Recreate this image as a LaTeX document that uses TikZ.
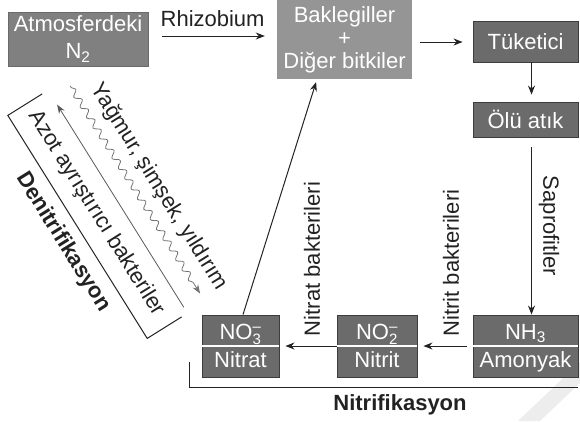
\documentclass[tikz,border=0pt]{standalone}
\usepackage{fontspec}
\setmainfont{Liberation Sans}
\usetikzlibrary{arrows.meta,decorations.pathmorphing}
\definecolor{boxA}{HTML}{808080}
\definecolor{boxAline}{HTML}{6A6A6A}
\definecolor{boxB}{HTML}{959595}
\definecolor{boxC}{HTML}{6B6B6B}
\definecolor{boxCline}{HTML}{3C3C3C}
\definecolor{ink}{HTML}{222222}
\definecolor{wmark}{HTML}{EDEDED}
\newcommand\ionsym[2]{\ensuremath{^{\mbox{\fontsize{15}{15}\selectfont #2}}_{\mbox{\fontsize{15}{15}\selectfont #1}}}}
\begin{document}
\begin{tikzpicture}[x=1pt,y=-1pt,
  font=\fontsize{22}{24}\selectfont,
  boxa/.style={draw=boxAline, fill=boxA, text=white, inner sep=0pt, line width=0.8pt, align=center},
  boxb/.style={fill=boxB, text=white, inner sep=0pt, align=center},
  boxc/.style={draw=boxCline, fill=boxC, text=white, inner sep=0pt, line width=0.9pt, align=center},
  wtxt/.style={text=white, inner sep=0pt, anchor=base},
  lbl/.style={text=ink, inner sep=0pt},
  arr/.style={draw=ink, line width=1pt, -{Stealth[length=9pt,width=7pt]}},
  brk/.style={draw=ink, line width=1pt}]
\useasboundingbox (0,0) rectangle (580,421);
% watermark stripe
\fill[wmark] (518,421) -- (540,421) -- (580,383) -- (580,362) -- cycle;

% top row
\node[boxa, minimum width=140pt, minimum height=54pt, font=\fontsize{22}{27}\selectfont] (atm) at (78,39) {Atmosferdeki\\N\textsubscript{2}};
\node[boxb, minimum width=135pt, minimum height=79pt, font=\fontsize{22}{23}\selectfont] (bak) at (344.5,39.5) {Baklegiller\\+\\Diğer bitkiler};
\node[boxc, minimum width=105pt, minimum height=41pt] (tuk) at (525.5,41.5) {Tüketici};
\node[boxc, minimum width=105pt, minimum height=35pt] (olu) at (525.5,119.5) {Ölü atık};

% bottom row (split boxes)
\node[boxc, minimum width=105pt, minimum height=62pt] (nh3) at (525.5,346) {};
\node[boxc, minimum width=80pt, minimum height=62pt] (no2) at (377,346) {};
\node[boxc, minimum width=77pt, minimum height=62pt] (no3) at (240.5,346) {};
\foreach \b in {nh3,no2,no3}{
  \draw[white, line width=1.3pt] ([xshift=0.5pt]\b.west) -- ([xshift=-0.5pt]\b.east);
}
\node[wtxt] (nh3a) at (525.5,339) {NH\textsubscript{3}};
\node[wtxt] (nh3b) at (525.5,367) {Amonyak};
\node[wtxt] (no2a) at (377,339) {NO\ionsym{2}{–}};
\node[wtxt] (no2b) at (377,367) {Nitrit};
\node[wtxt] (no3a) at (240.5,339) {NO\ionsym{3}{–}};
\node[wtxt] (no3b) at (240.5,367) {Nitrat};

% connectors
\draw[arr, shorten <=14pt, shorten >=12pt] ([yshift=3pt]atm.east) -- node[lbl, above=9pt] (rhiz) {Rhizobium} ([yshift=3.5pt]bak.west);
\draw[arr, shorten <=8pt, shorten >=10pt] ([yshift=-2.5pt]bak.east) -- ([yshift=-0.5pt]tuk.west);
\draw[arr, shorten >=7pt] ([xshift=6pt]tuk.south) -- ([xshift=6pt]olu.north);
\draw[arr, shorten <=10pt] ([xshift=6pt]olu.south) -- ([xshift=6pt]nh3.north);
\node[lbl, rotate=-90] (sap) at (549,226) {Saprofitler};
\draw[arr, shorten <=6pt, shorten >=6pt] (nh3.west) -- (no2.east);
\node[lbl, rotate=90] (nitb) at (451,263) {Nitrit bakterileri};
\draw[arr, shorten <=0pt, shorten >=6pt] (no2.west) -- (no3.east);
\node[lbl, rotate=90] (natb) at (312,259) {Nitrat bakterileri};
\draw[arr, shorten >=3pt] ([xshift=2.5pt]no3.north) -- ([xshift=-27.5pt]bak.south);

% nitrification bracket
\coordinate (n1) at (189,362);
\coordinate (n2) at (189,387);
\coordinate (n3) at (578,387);
\draw[brk] (n1) -- (n2) -- (n3);
\node[lbl, font=\fontsize{22}{24}\selectfont\bfseries] (nitri) at (400,405) {Nitrifikasyon};

% denitrification (diagonal)
\coordinate (b1) at (42.2,93.9);
\coordinate (b2) at (7.8,115.4);
\coordinate (b3) at (147.2,338.4);
\coordinate (b4) at (181.6,316.9);
\draw[brk] (b1) -- (b2) -- (b3) -- (b4);
\coordinate (a1) at (183.8,307.3);
\coordinate (a2) at (57.1,104.6);
\draw[draw=black!65, line width=0.8pt, -{Stealth[length=9pt,width=6.5pt]}] (a1) -- (a2);
\coordinate (w1) at (70.2,85.9);
\coordinate (w2) at (200.1,293.6);
\draw[draw=black!55, line width=0.8pt, decorate,
  decoration={snake, amplitude=3pt, segment length=12pt, pre length=2pt, post length=9pt},
  -{Stealth[length=9pt,width=6.5pt]}] (w1) -- (w2);
\node[lbl, rotate=-58] (rain) at (159,187) {Yağmur, şimşek, yıldırım};
\node[lbl, rotate=-58] (azot) at (96.5,213.3) {Azot ayrıştırıcı bakteriler};
\node[lbl, rotate=-58, font=\fontsize{22}{24}\selectfont\bfseries] (denit) at (63.3,242.3) {Denitrifikasyon};
\end{tikzpicture}
\end{document}
